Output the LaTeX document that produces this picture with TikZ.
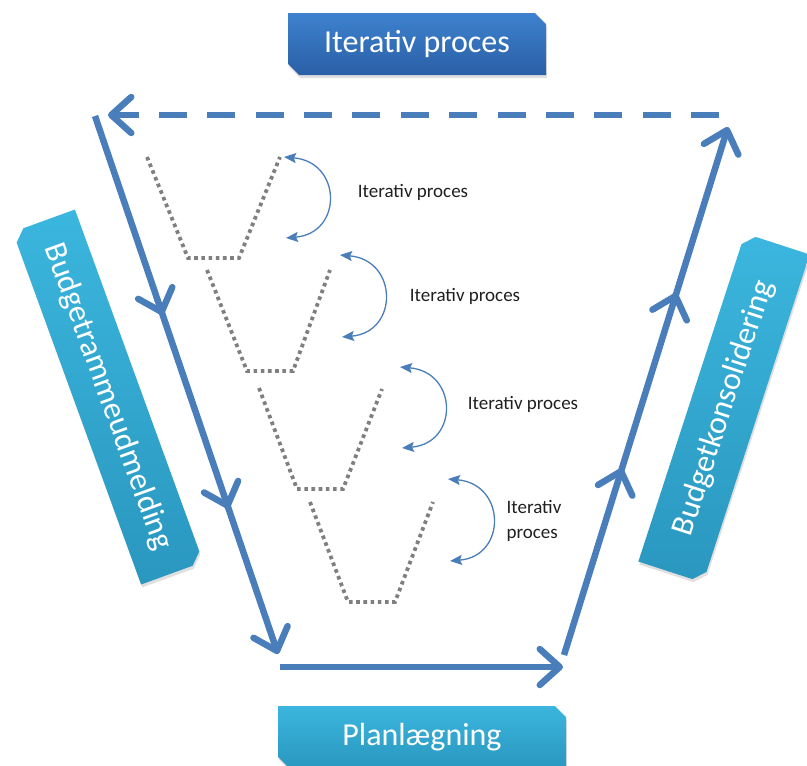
\documentclass[tikz,border=0pt]{standalone}
\usepackage{fontspec}
\setmainfont{Carlito}
\usetikzlibrary{arrows.meta, shapes.misc, decorations.markings, shadows}
\definecolor{flowblue}{HTML}{4A7EBB}
\definecolor{stepgray}{HTML}{7F7F7F}
\definecolor{deepblue}{HTML}{3E82CF}
\definecolor{deepbluedark}{HTML}{2A5FA6}
\definecolor{tealtop}{HTML}{3BB6DE}
\definecolor{tealbot}{HTML}{2A97BF}

\begin{document}
\begin{tikzpicture}[x=1pt, y=-1pt,
      phase/.style={shape=chamfered rectangle,
                    chamfered rectangle corners={north east, south west},
                    chamfered rectangle xsep=8pt, inner sep=0pt, draw=none,
                    top color=tealtop, bottom color=tealbot, text=white,
                    font=\fontsize{32}{38}\selectfont,
                    drop shadow={opacity=.25, shadow xshift=1pt, shadow yshift=-3pt}},
      loopbox/.style={phase, top color=deepblue, bottom color=deepbluedark},
      flow/.style={draw=flowblue, line width=6.5pt,
                   -{Straight Barb[length=20pt, width=36pt, round]}},
      midflow/.style 2 args={postaction={decorate}, decoration={markings,
          mark=at position #1 with {\arrow[flowblue, line width=6.5pt]{Straight Barb[length=20pt, width=36pt, round]}},
          mark=at position #2 with {\arrow[flowblue, line width=6.5pt]{Straight Barb[length=20pt, width=36pt, round]}}}},
      funnel/.style={draw=stepgray, line width=3.8pt, dash pattern=on 3.6pt off 3.6pt},
      iterarrow/.style={draw=flowblue, line width=1.3pt,
                        {Stealth[length=12pt, width=10pt, inset=2pt]}-{Stealth[length=12pt, width=10pt, inset=2pt]}},
      note/.style={font=\fontsize{19}{25}\selectfont, text=black!88, align=left}
    ]
      \useasboundingbox (0,0) rectangle (807,766);

      \node[loopbox, minimum width=258pt, minimum height=62pt] (iter) at (417,44) {Iterativ proces};
      \node[phase, minimum width=288pt, minimum height=62pt] (plan) at (422,737) {Planlægning};
      \node[phase, rotate=-70, minimum width=375pt, minimum height=66pt] (ramme) at (108,397) {Budgetrammeudmelding};
      \node[phase, rotate=72, minimum width=345pt, minimum height=68pt] (konsol) at (724,408) {Budgetkonsolidering};

      \coordinate (lt) at (95,116);
      \coordinate (lb) at (278,654);
      \coordinate (bl) at (280,667);
      \coordinate (br) at (563,667);
      \coordinate (rb) at (564,655);
      \coordinate (rt) at (728,127);
      \coordinate (tr) at (719,115);
      \coordinate (tl) at (108,115);

      \draw[flow, midflow={0.37}{0.73}] (lt) -- (lb);
      \draw[flow] (bl) -- (br);
      \draw[flow, midflow={0.354}{0.686}] (rb) -- (rt);
      \draw[flow, dash pattern=on 28pt off 20.36pt] (tr) -- (tl);

      % trin
      \draw[funnel] (147,157) -- (188,258) -- (239,258) -- (280,157);
      \draw[funnel] (207,270) -- (247,371) -- (293,371) -- (330,270);
      \draw[funnel] (259,388) -- (297,489) -- (343,489) -- (382,389);
      \draw[funnel] (310,502) -- (348,602) -- (395,602) -- (433,502);

      \coordinate (i1a) at (284,157);
      \coordinate (i1b) at (286,238);
      \coordinate (i2a) at (340,255);
      \coordinate (i2b) at (342,337);
      \coordinate (i3a) at (400,367);
      \coordinate (i3b) at (402,448);
      \coordinate (i4a) at (448,479);
      \coordinate (i4b) at (450,561);

      \draw[iterarrow] (i1a) .. controls ++(58,5) and ++(57,-5) .. (i1b);
      \draw[iterarrow] (i2a) .. controls ++(58,5) and ++(57,-5) .. (i2b);
      \draw[iterarrow] (i3a) .. controls ++(58,5) and ++(57,-5) .. (i3b);
      \draw[iterarrow] (i4a) .. controls ++(58,5) and ++(57,-5) .. (i4b);

      \node[note] (n1) at (413,192) {Iterativ proces};
      \node[note] (n2) at (465,296) {Iterativ proces};
      \node[note] (n3) at (523,404) {Iterativ proces};
      \node[note] (n4) at (534,521) {Iterativ\\proces};
    \end{tikzpicture}
\end{document}
